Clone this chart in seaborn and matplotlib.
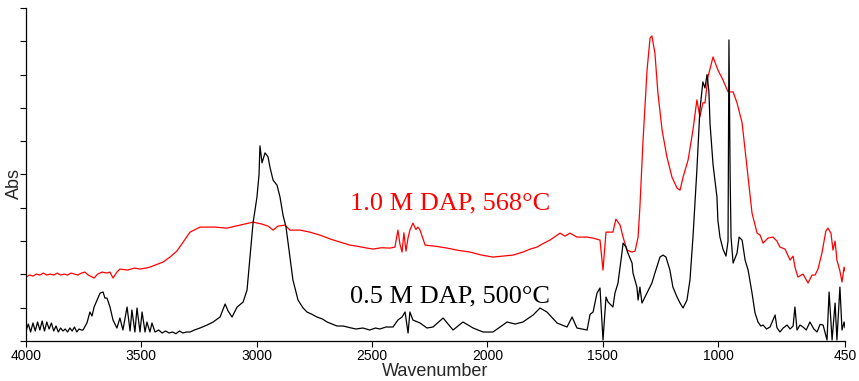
import numpy as np
import pandas as pd
import matplotlib
matplotlib.use("Agg")
import matplotlib.pyplot as plt
import seaborn as sns

# --- DATI ---
black_wn = [4000, 3990, 3980, 3970, 3960, 3950, 3940, 3930, 3920, 3910, 3900, 3890, 3880, 3870,
            3860, 3850, 3840, 3830, 3820, 3810, 3800, 3790, 3780, 3770, 3760,
            3753, 3736, 3723, 3714, 3705, 3692, 3679, 3666, 3658, 3649, 3636, 3623, 3606,
            3593, 3580, 3562, 3549, 3541, 3528, 3519, 3506, 3497, 3484, 3476, 3463, 3454, 3441,
            3425, 3410, 3395, 3380, 3365, 3350, 3335, 3320, 3305, 3289, 3270, 3246, 3215, 3189,
            3159, 3137, 3124, 3107, 3085, 3059, 3042,
            3029, 3016, 2999, 2990, 2986, 2977, 2964, 2951, 2942, 2929, 2912, 2899, 2886, 2873,
            2856, 2843, 2821, 2800, 2782, 2760, 2739, 2715, 2695, 2670, 2652, 2625, 2596, 2570,
            2540, 2510, 2485, 2466, 2440, 2409, 2388, 2370, 2357, 2344,
            2336, 2323, 2292, 2262, 2236, 2192, 2149, 2106, 2062, 2019, 1976, 1945, 1915, 1880,
            1846, 1802, 1772, 1742, 1698, 1655, 1633, 1612, 1568, 1555, 1542, 1525, 1512, 1499,
            1486, 1477, 1456, 1447, 1434, 1417, 1412, 1399, 1391, 1373, 1369, 1352, 1347, 1339,
            1330, 1317, 1304, 1287, 1274, 1252, 1239, 1226, 1209, 1196, 1178, 1165, 1152, 1135,
            1122, 1109, 1092, 1079, 1066, 1057, 1048, 1040, 1035, 1022, 1005, 1001, 992, 979,
            966, 957, 953, 948, 944, 935, 918, 909, 896, 883, 870, 853, 840, 827, 815, 805, 790, 775,
            753, 745, 732, 718, 701, 688, 675, 667, 658, 645, 632, 618, 602, 585, 571, 558, 545, 528,
            519, 506, 493, 485, 472, 463, 454, 450]
black_abs = [0.030, 0.051, 0.027, 0.054, 0.030, 0.057, 0.033, 0.060, 0.030, 0.057, 0.036, 0.054, 0.030, 0.045,
             0.027, 0.039, 0.030, 0.036, 0.027, 0.039, 0.030, 0.042, 0.027, 0.036, 0.033,
             0.033, 0.054, 0.087, 0.075, 0.102, 0.123, 0.144, 0.147, 0.129, 0.129, 0.102, 0.063, 0.039,
             0.069, 0.033, 0.102, 0.030, 0.093, 0.027, 0.099, 0.027, 0.087, 0.027, 0.057, 0.027, 0.054, 0.027,
             0.033, 0.024, 0.030, 0.024, 0.027, 0.022, 0.030, 0.024, 0.027, 0.027, 0.033, 0.039, 0.048, 0.057,
             0.072, 0.111, 0.090, 0.072, 0.102, 0.117, 0.153,
             0.252, 0.354, 0.432, 0.500, 0.586, 0.535, 0.565, 0.553, 0.520, 0.483, 0.468, 0.432, 0.378, 0.342,
             0.252, 0.183, 0.123, 0.100, 0.087, 0.080, 0.072, 0.066, 0.057, 0.050, 0.045, 0.045, 0.040, 0.036,
             0.039, 0.033, 0.039, 0.036, 0.042, 0.042, 0.063, 0.072, 0.087, 0.024,
             0.087, 0.063, 0.054, 0.039, 0.042, 0.069, 0.033, 0.057, 0.039, 0.027, 0.027, 0.042, 0.057, 0.051,
             0.057, 0.078, 0.099, 0.087, 0.054, 0.042, 0.072, 0.039, 0.033, 0.080, 0.087, 0.144, 0.159, 0.003,
             0.132, 0.117, 0.102, 0.144, 0.174, 0.264, 0.294, 0.282, 0.264, 0.234, 0.204, 0.162, 0.123, 0.162,
             0.114, 0.132, 0.150, 0.174, 0.204, 0.252, 0.258, 0.252, 0.213, 0.162, 0.132, 0.114, 0.099, 0.123,
             0.183, 0.312, 0.514, 0.694, 0.778, 0.760, 0.800, 0.750, 0.652, 0.530, 0.432, 0.363, 0.312, 0.276,
             0.255, 0.300, 0.904, 0.500, 0.312, 0.234, 0.264, 0.312, 0.303, 0.243, 0.213, 0.144, 0.084, 0.057, 0.045, 0.048, 0.036, 0.042,
             0.078, 0.040, 0.027, 0.039, 0.048, 0.036, 0.045, 0.102, 0.033, 0.048, 0.042, 0.033, 0.057, 0.036, 0.027, 0.050, 0.048, 0.003,
             0.147, 0.003, 0.114, 0.003, 0.162, 0.033, 0.057, 0.040]

red_wn = [4000, 3985, 3970, 3955, 3940, 3925, 3910, 3895, 3880, 3865, 3850, 3835, 3820, 3805, 3790,
          3775, 3760, 3745, 3730, 3705, 3690, 3670, 3650, 3636, 3623, 3606, 3593, 3560, 3530, 3506,
          3480, 3463, 3406, 3376, 3346, 3319, 3289, 3246, 3181, 3129, 3072, 3016, 2977, 2951, 2929,
          2908, 2877, 2856, 2812, 2770, 2726, 2680, 2639, 2596, 2560, 2522, 2496, 2460, 2422, 2401,
          2388, 2379, 2370, 2362,
          2353, 2344, 2336, 2323, 2310, 2301, 2292, 2270, 2220, 2175, 2125, 2075, 2025, 1976, 1930,
          1889, 1846, 1815, 1785, 1755, 1729,
          1685, 1664, 1642, 1612, 1568, 1542, 1512, 1499, 1486, 1456, 1443, 1425, 1412, 1395, 1373,
          1360, 1347, 1339, 1326, 1308, 1295, 1287, 1274, 1261, 1243, 1222, 1200, 1178, 1165, 1152,
          1130, 1109, 1092, 1079, 1066, 1057, 1044, 1022, 1001, 979, 957, 935, 918, 896, 875, 853,
          831, 818, 805, 784, 762, 745, 732, 710, 688, 675, 667, 654, 632, 610, 593, 580, 567, 550,
          533, 524, 511, 502, 493, 485, 472, 463, 454, 450]
red_abs = [0.192, 0.198, 0.195, 0.201, 0.198, 0.204, 0.198, 0.201, 0.198, 0.204, 0.198, 0.201, 0.198, 0.204, 0.201,
           0.198, 0.204, 0.207, 0.198, 0.189, 0.201, 0.207, 0.204, 0.207, 0.189, 0.207, 0.216, 0.213, 0.219, 0.216,
           0.219, 0.222, 0.237, 0.252, 0.270, 0.297, 0.327, 0.342, 0.342, 0.339, 0.348, 0.357, 0.351, 0.345, 0.333,
           0.345, 0.348, 0.333, 0.333, 0.327, 0.318, 0.306, 0.297, 0.288, 0.284, 0.279, 0.276, 0.280, 0.279, 0.282,
           0.333, 0.290, 0.267, 0.325,
           0.270, 0.310, 0.333, 0.354, 0.335, 0.342, 0.333, 0.288, 0.284, 0.279, 0.272, 0.267, 0.258, 0.252, 0.255,
           0.258, 0.267, 0.276, 0.282, 0.294, 0.303,
           0.324, 0.315, 0.324, 0.312, 0.312, 0.309, 0.303, 0.213, 0.327, 0.327, 0.366, 0.348, 0.312, 0.273, 0.267,
           0.270, 0.312, 0.402, 0.595, 0.814, 0.910, 0.916, 0.865, 0.745, 0.634, 0.553, 0.492, 0.459, 0.453, 0.492,
           0.544, 0.634, 0.724, 0.673, 0.715, 0.715, 0.793, 0.853, 0.814, 0.784, 0.748, 0.748, 0.715, 0.655, 0.523, 0.384,
           0.324, 0.318, 0.294, 0.309, 0.312, 0.300, 0.282, 0.276, 0.243, 0.255, 0.222, 0.192, 0.201, 0.174, 0.198, 0.198, 0.216, 0.264,
           0.330, 0.339, 0.324, 0.273, 0.300, 0.243, 0.210, 0.177, 0.222, 0.210]

red_label = "1.0 M DAP, 568°C"
black_label = "0.5 M DAP, 500°C"
x_ticks = [4000, 3500, 3000, 2500, 2000, 1500, 1000, 450]

# --- GRAFICO ---
sns.set_style("ticks")
plt.rcParams['font.family'] = ['Liberation Sans', 'DejaVu Sans']

fig = plt.figure(figsize=(8.59, 3.81), dpi=100)
ax = fig.add_axes([0.0303, 0.105, 0.9534, 0.874])

df_black = pd.DataFrame({"wn": black_wn, "abs": black_abs})
df_red = pd.DataFrame({"wn": red_wn, "abs": red_abs})
sns.lineplot(data=df_red, x="wn", y="abs", color="red", lw=0.9, sort=False, estimator=None, ax=ax)
sns.lineplot(data=df_black, x="wn", y="abs", color="black", lw=0.9, sort=False, estimator=None, ax=ax)

ax.set_xlim(4000, 450)
ax.set_ylim(0, 1.0)
ax.set_xticks(x_ticks)
ax.set_xticklabels([str(t) for t in x_ticks], fontsize=10)
ax.set_yticks(np.arange(0, 1.01, 0.1))
ax.set_yticklabels([])
ax.tick_params(direction='out', length=4, width=0.8, colors='black', pad=2)
sns.despine(ax=ax)
for s in ['left', 'bottom']:
    ax.spines[s].set_linewidth(0.9)
    ax.spines[s].set_color('black')

ax.set_xlabel("Wavenumber", fontsize=13, labelpad=0)
ax.set_ylabel("Abs", fontsize=13)
ax.yaxis.set_label_coords(-0.004, 0.474)

ax.text(2162, 0.414, red_label, color="red", fontsize=19, family=['Liberation Serif'],
        ha='center', va='center')
ax.text(2162, 0.135, black_label, color="black", fontsize=19, family=['Liberation Serif'],
        ha='center', va='center')

plt.savefig("out.png", dpi=100)
